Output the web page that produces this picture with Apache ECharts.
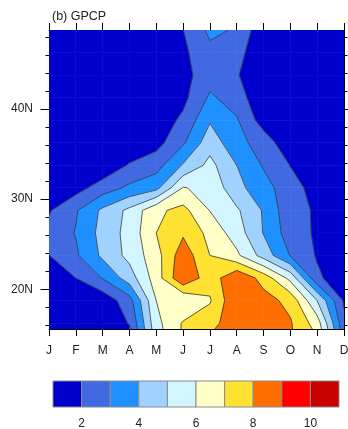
<!DOCTYPE html>
<html>
<head>
<meta charset="utf-8">
<script src="https://cdn.jsdelivr.net/npm/echarts@6/dist/echarts.min.js"></script>
<style>
  html, body { margin: 0; padding: 0; background: #fff; }
  #chart { width: 348px; height: 429px; }
</style>
</head>
<body>
<div id="chart"></div>
<script>
// Month-latitude cross-section of GPCP precipitation (mm/day), filled contours.
const MONTHS = ['J', 'F', 'M', 'A', 'M', 'J', 'J', 'A', 'S', 'O', 'N', 'D'];

// Grid latitudes (2.5 degree cell centres), south to north
const LATS = [13.75, 16.25, 18.75, 21.25, 23.75, 26.25, 28.75, 31.25, 33.75, 36.25, 38.75, 41.25, 43.75, 46.25, 48.75];

// Monthly precipitation along each latitude row, Jan..Dec
const lat13_75 = [0.5, 0.5, 0.9, 1.47, 5.3, 7.2, 8.37, 8.4, 8.5, 8.1, 7.27, 2.83];
const lat16_25 = [0.9, 1.1, 1.3, 2.05, 5.7, 7.1, 7.6, 8.7, 8.9, 8.1, 6.5, 2.25];
const lat18_75 = [1.2, 1.5, 1.3, 2.6, 6.0, 6.0, 6.9, 8.9, 8.4, 7.7, 5.0, 1.85];
const lat21_25 = [1.6, 2.0, 3.05, 4.5, 6.5, 8.9, 7.4, 8.9, 7.6, 5.7, 2.2, 1.3];
const lat23_75 = [1.98, 2.85, 4.2, 5.3, 6.6, 8.6, 7.0, 6.2, 4.6, 2.95, 1.9, 1.1];
const lat26_25 = [2.35, 3.05, 4.35, 5.35, 7.0, 7.85, 6.7, 5.5, 3.95, 2.5, 1.85, 1.0];
const lat28_75 = [1.9, 2.9, 4.2, 5.25, 6.8, 7.3, 5.97, 5.15, 3.9, 2.29, 1.9, 1.2];
const lat31_25 = [1.1, 1.6, 2.49, 3.2, 3.7, 6.05, 5.75, 4.3, 3.4, 2.4, 1.6, 1.0];
const lat33_75 = [0.8, 0.9, 1.19, 2.1, 2.6, 4.1, 5.3, 4.0, 2.9, 1.97, 1.1, 0.8];
const lat36_25 = [0.7, 0.7, 0.8, 1.1, 1.63, 2.85, 4.6, 3.3, 2.6, 1.2, 0.9, 0.7];
const lat38_75 = [0.6, 0.6, 0.7, 0.9, 1.4, 2.2, 3.9, 3.1, 1.5, 1.0, 0.8, 0.6];
const lat41_25 = [0.5, 0.5, 0.6, 0.8, 1.2, 1.73, 3.15, 2.55, 1.1, 0.9, 0.7, 0.5];
const lat43_75 = [0.5, 0.5, 0.6, 0.7, 1.1, 1.65, 2.6, 2.09, 1.1, 0.8, 0.7, 0.5];
const lat46_25 = [0.5, 0.5, 0.6, 0.7, 1.2, 1.79, 2.75, 2.36, 1.2, 0.8, 0.6, 0.5];
const lat48_75 = [0.5, 0.5, 0.6, 0.8, 1.2, 1.98, 3.22, 2.9, 1.23, 0.9, 0.6, 0.5];

const ROWS = [lat13_75, lat16_25, lat18_75, lat21_25, lat23_75, lat26_25, lat28_75,
              lat31_25, lat33_75, lat36_25, lat38_75, lat41_25, lat43_75, lat46_25, lat48_75];

// Contour levels and fill colours (one more colour than levels)
const LEVELS = [2, 3, 4, 5, 6, 7, 8, 9, 10];
const COLORS = ['#0000CC', '#4169E1', '#1E90FF', '#A0D2FF', '#D2F5FF',
                '#FFFFC8', '#FFE132', '#FF6E00', '#FF0000', '#C80000'];
const BAR_LABELS = [2, 4, 6, 8, 10];

// Latitude axis
const LAT_MIN = 15.6, LAT_MAX = 48.75;
const LAT_MAJOR = [20, 30, 40];
const LAT_MINOR = [16, 18, 22, 24, 26, 28, 32, 34, 36, 38, 42, 44, 46, 48];

const FONT = '"Liberation Sans", Arial, Helvetica, sans-serif';
const LINE_COLOR = '#333333';

// one data item per grid cell: [month, lat, i, j]
const cells = [];
for (let j = 0; j < LATS.length - 1; j++) {
  for (let i = 0; i < MONTHS.length - 1; i++) {
    cells.push([i, LATS[j], i, j]);
  }
}

function lerp(p, q, f) { return [p[0] + f * (q[0] - p[0]), p[1] + f * (q[1] - p[1])]; }

function cellCorners(api) {
  const i = api.value(2), j = api.value(3);
  const idx = [[i, j], [i + 1, j], [i + 1, j + 1], [i, j + 1]];
  const pts = idx.map(([a, b]) => api.coord([a, LATS[b]]));
  const vals = idx.map(([a, b]) => ROWS[b][a]);
  return { pts, vals };
}

// Region of one band inside a cell, walking the cell boundary
function bandPolygon(pts, vals, lo, hi) {
  const out = [];
  for (let e = 0; e < 4; e++) {
    const a = e, b = (e + 1) % 4;
    const va = vals[a], vb = vals[b];
    if (va >= lo && va < hi) out.push(pts[a]);
    const fs = [];
    [lo, hi].forEach(t => {
      if (!isFinite(t)) return;
      if ((va < t) !== (vb < t)) fs.push((t - va) / (vb - va));
    });
    fs.sort((x, y) => x - y);
    fs.forEach(f => out.push(lerp(pts[a], pts[b], f)));
  }
  return out;
}

function renderFill(params, api) {
  const { pts, vals } = cellCorners(api);
  const children = [];
  for (let k = 0; k < COLORS.length; k++) {
    const lo = k === 0 ? -Infinity : LEVELS[k - 1];
    const hi = k === COLORS.length - 1 ? Infinity : LEVELS[k];
    const poly = bandPolygon(pts, vals, lo, hi);
    if (poly.length >= 3) {
      children.push({
        type: 'polygon',
        shape: { points: poly },
        style: { fill: COLORS[k], stroke: COLORS[k], lineWidth: 0.6 }
      });
    }
  }
  return { type: 'group', children };
}

function renderLines(params, api) {
  const { pts, vals } = cellCorners(api);
  const children = [];
  LEVELS.forEach(L => {
    const cross = [];
    for (let e = 0; e < 4; e++) {
      const a = e, b = (e + 1) % 4;
      const va = vals[a], vb = vals[b];
      if ((va < L) !== (vb < L)) cross.push(lerp(pts[a], pts[b], (L - va) / (vb - va)));
    }
    for (let n = 0; n + 1 < cross.length; n += 2) {
      children.push({
        type: 'polyline',
        shape: { points: [cross[n], cross[n + 1]] },
        style: { stroke: LINE_COLOR, lineWidth: 0.8, fill: null }
      });
    }
  });
  return { type: 'group', children };
}

// Colour bar boxes: [lower bound, upper bound, colour index]
const bounds = [1].concat(LEVELS, [11]);
const barBoxes = COLORS.map((c, k) => [bounds[k], bounds[k + 1], k]);

const axisText = { fontSize: 12, color: '#222', fontFamily: FONT };
const frame = { show: true, lineStyle: { color: '#000', width: 1 } };
const tickStyle = { color: '#000', width: 1 };

const option = {
  animation: false,
  backgroundColor: '#fff',
  title: {
    text: '(b) GPCP',
    left: 47, top: 5,
    textStyle: { fontSize: 12.5, fontWeight: 'normal', color: '#222', fontFamily: FONT }
  },
  grid: [
    { left: 49, right: 4, top: 30, bottom: 100, outerBoundsMode: 'none' },
    { left: 53, right: 9, top: 381, height: 26, outerBoundsMode: 'none' }
  ],
  xAxis: [
    {
      gridIndex: 0, type: 'value', min: 0, max: 11, interval: 1, position: 'bottom',
      axisLine: frame,
      axisTick: { show: true, length: 7, lineStyle: tickStyle },
      axisLabel: Object.assign({ margin: 16, formatter: v => MONTHS[v] || '' }, axisText),
      splitLine: { show: false }
    },
    {
      gridIndex: 0, type: 'value', min: 0, max: 11, interval: 1, position: 'top',
      axisLine: frame,
      axisTick: { show: true, length: 7, lineStyle: tickStyle },
      axisLabel: { show: false },
      splitLine: { show: false }
    },
    {
      gridIndex: 1, type: 'value', min: 1, max: 11,
      axisLine: { show: false },
      axisTick: { show: false },
      axisLabel: Object.assign({ margin: 11, customValues: BAR_LABELS }, axisText),
      splitLine: { show: false }
    }
  ],
  yAxis: [
    {
      gridIndex: 0, type: 'value', min: LAT_MIN, max: LAT_MAX, position: 'left',
      axisLine: frame,
      axisTick: { show: true, length: 8.5, customValues: LAT_MAJOR, lineStyle: tickStyle },
      axisLabel: Object.assign({ margin: 16, customValues: LAT_MAJOR, formatter: v => v + 'N' }, axisText),
      splitLine: { show: false }
    },
    {
      gridIndex: 0, type: 'value', min: LAT_MIN, max: LAT_MAX, position: 'left',
      axisLine: { show: false },
      axisTick: { show: true, length: 3.5, customValues: LAT_MINOR, lineStyle: tickStyle },
      axisLabel: { show: false },
      splitLine: { show: false }
    },
    {
      gridIndex: 0, type: 'value', min: LAT_MIN, max: LAT_MAX, position: 'right',
      axisLine: frame,
      axisTick: { show: true, length: 8.5, customValues: LAT_MAJOR, lineStyle: tickStyle },
      axisLabel: { show: false },
      splitLine: { show: false }
    },
    {
      gridIndex: 0, type: 'value', min: LAT_MIN, max: LAT_MAX, position: 'right',
      axisLine: { show: false },
      axisTick: { show: true, length: 3.5, customValues: LAT_MINOR, lineStyle: tickStyle },
      axisLabel: { show: false },
      splitLine: { show: false }
    },
    {
      gridIndex: 1, type: 'value', min: 0, max: 1, show: false
    }
  ],
  series: [
    {
      type: 'custom', name: 'fill', xAxisIndex: 0, yAxisIndex: 0, clip: true, z: 1,
      encode: { x: 0, y: 1 },
      data: cells,
      renderItem: renderFill
    },
    {
      type: 'custom', name: 'contours', xAxisIndex: 0, yAxisIndex: 0, clip: true, z: 2,
      encode: { x: 0, y: 1 },
      data: cells,
      renderItem: renderLines
    },
    {
      type: 'custom', name: 'colorbar', xAxisIndex: 2, yAxisIndex: 4, z: 2,
      encode: { x: [0, 1] },
      data: barBoxes,
      renderItem: (params, api) => {
        const p0 = api.coord([api.value(0), 1]);
        const p1 = api.coord([api.value(1), 0]);
        return {
          type: 'rect',
          shape: { x: p0[0], y: p0[1], width: p1[0] - p0[0], height: p1[1] - p0[1] },
          style: { fill: COLORS[api.value(2)], stroke: '#8a8a8a', lineWidth: 1 }
        };
      }
    }
  ]
};

const chart = echarts.init(document.getElementById('chart'), null, { renderer: 'canvas' });
chart.setOption(option);
</script>
</body>
</html>
